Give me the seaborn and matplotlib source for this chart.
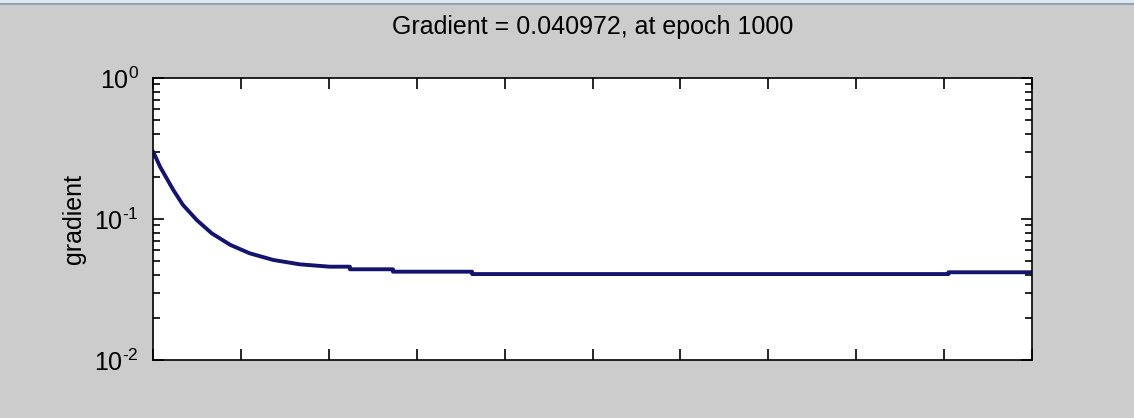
import numpy as np
import pandas as pd
import seaborn as sns
import matplotlib.pyplot as plt
from matplotlib.patches import Rectangle
from matplotlib.ticker import LogLocator, NullFormatter, MultipleLocator

# values (epoch, gradient), steps given as repeated epochs
epochs = [0, 2, 8, 23, 34, 50, 67, 88, 110, 137, 167, 201,
          224, 224, 273, 273, 363, 363, 905, 905, 1000]
gradient = [0.300, 0.284, 0.235, 0.161, 0.126, 0.098, 0.079, 0.0655, 0.0571, 0.0512, 0.0477, 0.0459,
            0.0459, 0.0440, 0.0440, 0.0423, 0.0423, 0.0407, 0.0407, 0.0419, 0.0419]
title_text = "Gradient = 0.040972, at epoch 1000"
ytick_values = [1e-2, 1e-1, 1e0]
# short hyphen in the exponent like the MATLAB figure
ytick_labels = ['$10^{\u20102}$', '$10^{\u20101}$', '$10^{0}$']

df = pd.DataFrame({"epoch": epochs, "gradient": gradient})

plt.rcParams['font.family'] = ['Liberation Sans', 'DejaVu Sans']
plt.rcParams['mathtext.default'] = 'regular'

fig = plt.figure(figsize=(11.34, 4.18), dpi=100, facecolor='#cccccc')
ax = fig.add_axes([153 / 1134, 1 - 360 / 418, 879 / 1134, 282 / 418])
ax.set_facecolor('white')

# window border strip along the top
fig.add_artist(Rectangle((0, 1 - 3 / 418), 1, 3 / 418, transform=fig.transFigure,
                         facecolor='#dde6ee', edgecolor='none'))
fig.add_artist(Rectangle((0, 1 - 5 / 418), 1, 2 / 418, transform=fig.transFigure,
                         facecolor='#8ea2b4', edgecolor='none'))

sns.lineplot(data=df, x='epoch', y='gradient', ax=ax, estimator=None, sort=False,
             color='#14146e', linewidth=2.8)

ax.set_yscale('log')
ax.set_xlim(0, 1000)
ax.set_ylim(1e-2, 1e0)
ax.xaxis.set_major_locator(MultipleLocator(100))
ax.set_xticklabels([])
ax.set_yticks(ytick_values)
ax.set_yticklabels(ytick_labels)
ax.yaxis.set_minor_locator(LogLocator(base=10, subs=np.arange(2, 10), numticks=20))
ax.yaxis.set_minor_formatter(NullFormatter())

ax.tick_params(axis='both', which='major', direction='in', length=8, width=1.2,
               top=True, right=True, labelsize=18, pad=10, colors='black')
ax.tick_params(axis='y', which='minor', direction='in', length=5, width=1.2, right=True)
for s in ax.spines.values():
    s.set_linewidth(1.2)
    s.set_color('black')

ax.set_xlabel('')
ax.set_ylabel('gradient', fontsize=18, labelpad=6)
ax.set_title(title_text, fontsize=18, pad=32)

fig.savefig('out.png', dpi=100, facecolor=fig.get_facecolor())
